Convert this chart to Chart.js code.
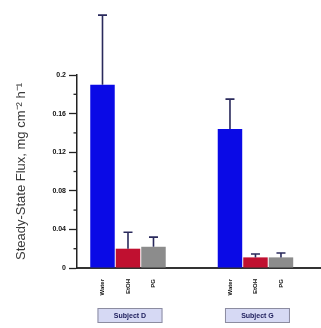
<!DOCTYPE html>
<html>
<head>
<meta charset="utf-8">
<script src="https://cdn.jsdelivr.net/npm/chart.js@4/dist/chart.umd.min.js"></script>
<style>
html,body{margin:0;padding:0;background:#fff;}
#wrap{width:321px;height:328px;position:relative;}
</style>
</head>
<body>
<div id="wrap"><canvas id="c" width="321" height="328"></canvas></div>
<script>
// ---- data ----
const barLabels = ['Water', 'EtOH', 'PG', 'Water', 'EtOH', 'PG'];
const barPositions = [1, 2, 3, 6, 7, 8];
const fluxMeans = [0.190, 0.020, 0.022, 0.144, 0.011, 0.011];
const fluxErrors = [0.072, 0.017, 0.010, 0.031, 0.0035, 0.0045];
const groupLabels = ['Subject D', 'Subject G'];
const groupCenters = [2, 7];
const yTicks = [0, 0.04, 0.08, 0.12, 0.16, 0.2];
const barColors = ['#0a0ae6', '#c01030', '#8c8c8c', '#0a0ae6', '#c01030', '#8c8c8c'];

const points = barPositions.map((x, i) => ({x: x, y: fluxMeans[i]}));

const extras = {
  id: 'extras',
  afterDatasetsDraw(chart) {
    const ctx = chart.ctx;
    const ys = chart.scales.y, xs = chart.scales.x;
    const meta = chart.getDatasetMeta(0);
    ctx.save();
    ctx.strokeStyle = '#2a2a5c';
    ctx.lineWidth = 1.6;
    meta.data.forEach((bar, i) => {
      const top = ys.getPixelForValue(fluxMeans[i] + fluxErrors[i]);
      const base = ys.getPixelForValue(fluxMeans[i]);
      ctx.beginPath();
      ctx.moveTo(bar.x, base);
      ctx.lineTo(bar.x, top);
      ctx.moveTo(bar.x - 4.5, top);
      ctx.lineTo(bar.x + 4.5, top);
      ctx.stroke();
    });
    ctx.strokeStyle = '#222';
    ctx.lineWidth = 1.3;
    for (let k = 0; k < yTicks.length - 1; k++) {
      const v = (yTicks[k] + yTicks[k + 1]) / 2;
      const py = ys.getPixelForValue(v);
      ctx.beginPath();
      ctx.moveTo(xs.left - 3.5, py);
      ctx.lineTo(xs.left, py);
      ctx.stroke();
    }
    ctx.restore();
  },
  afterDraw(chart) {
    const ctx = chart.ctx;
    const xs = chart.scales.x;
    ctx.save();
    groupLabels.forEach((lab, i) => {
      const cx = xs.getPixelForValue(groupCenters[i]) + 2;
      const w = 65, h = 15, top = 308;
      ctx.fillStyle = '#d6d9f4';
      ctx.fillRect(cx - w / 2, top, w, h);
      ctx.strokeStyle = '#8c8ca0';
      ctx.lineWidth = 1;
      ctx.strokeRect(cx - w / 2 + 0.5, top + 0.5, w - 1, h - 1);
      ctx.fillStyle = '#1c1c5a';
      ctx.font = 'bold 7px "Liberation Sans", Arial, sans-serif';
      ctx.textAlign = 'center';
      ctx.textBaseline = 'middle';
      ctx.fillText(lab, cx, top + h / 2 + 0.5);
    });
    ctx.restore();
  }
};

new Chart(document.getElementById('c'), {
  type: 'bar',
  data: {
    datasets: [{
      data: points,
      backgroundColor: barColors,
      borderColor: barColors,
      borderWidth: 0,
      barPercentage: 0.96,
      categoryPercentage: 1
    }]
  },
  options: {
    responsive: false,
    animation: false,
    events: [],
    layout: {padding: {top: 75, right: 0, left: 0, bottom: 0}},
    plugins: {legend: {display: false}, tooltip: {enabled: false}},
    scales: {
      x: {
        type: 'linear',
        offset: false,
        min: 0,
        max: 9.57,
        afterBuildTicks: (s) => { s.ticks = barPositions.map(v => ({value: v})); },
        afterFit: (s) => { s.height = 60; },
        grid: {display: false, offset: false},
        border: {display: true, color: '#333', width: 2},
        ticks: {
          autoSkip: false,
          minRotation: 90,
          maxRotation: 90,
          padding: 3,
          color: '#111',
          font: {size: 6, weight: 'bold', family: '"Liberation Sans", Arial, sans-serif'},
          callback: (v) => {
            const i = barPositions.indexOf(v);
            return i >= 0 ? barLabels[i] : '';
          }
        }
      },
      y: {
        min: 0,
        max: 0.2,
        afterBuildTicks: (s) => { s.ticks = yTicks.map(v => ({value: v})); },
        afterFit: (s) => { s.width = 77; },
        grid: {display: true, drawOnChartArea: false, drawTicks: true, tickLength: 8, tickColor: '#222', tickWidth: 1.3},
        border: {display: true, color: '#222', width: 1.5},
        ticks: {
          padding: 3,
          color: '#111',
          font: {size: 7, weight: 'bold', family: '"Liberation Sans", Arial, sans-serif'},
          callback: (v) => String(Math.round(v * 100) / 100)
        },
        title: {
          display: true,
          text: 'Steady-State Flux, mg cm⁻² h⁻¹',
          color: '#3a3a3a',
          font: {size: 13, family: '"Liberation Sans", Arial, sans-serif'},
          padding: {top: 14, bottom: 0}
        }
      }
    }
  },
  plugins: [extras]
});
</script>
</body>
</html>
